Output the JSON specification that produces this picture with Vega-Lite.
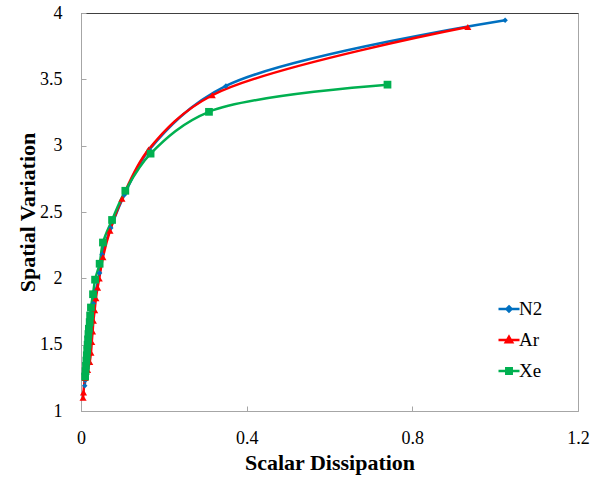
{
  "$schema": "https://vega.github.io/schema/vega-lite/v6.json",
  "width": 497,
  "height": 398,
  "autosize": {"type": "none"},
  "padding": {"left": 81, "top": 13, "right": 15, "bottom": 70},
  "config": {
    "view": {"stroke": "#A6A6A6", "strokeWidth": 1},
    "font": "Liberation Serif",
    "axis": {"labelFont": "Liberation Serif", "titleFont": "Liberation Serif"},
    "legend": {"padding": 0, "labelFont": "Liberation Serif"}
  },
  "data": {
    "values": [
      {"gas": "N2", "x": 0.009, "y": 1.19},
      {"gas": "N2", "x": 0.010, "y": 1.23},
      {"gas": "N2", "x": 0.012, "y": 1.30},
      {"gas": "N2", "x": 0.014, "y": 1.37},
      {"gas": "N2", "x": 0.016, "y": 1.44},
      {"gas": "N2", "x": 0.018, "y": 1.50},
      {"gas": "N2", "x": 0.020, "y": 1.57},
      {"gas": "N2", "x": 0.023, "y": 1.64},
      {"gas": "N2", "x": 0.026, "y": 1.72},
      {"gas": "N2", "x": 0.030, "y": 1.81},
      {"gas": "N2", "x": 0.036, "y": 1.91},
      {"gas": "N2", "x": 0.045, "y": 2.04},
      {"gas": "N2", "x": 0.051, "y": 2.18},
      {"gas": "N2", "x": 0.072, "y": 2.38},
      {"gas": "N2", "x": 0.105, "y": 2.63},
      {"gas": "N2", "x": 0.165, "y": 2.97},
      {"gas": "N2", "x": 0.350, "y": 3.45},
      {"gas": "N2", "x": 1.024, "y": 3.946},
      {"gas": "Ar", "x": 0.005, "y": 1.10},
      {"gas": "Ar", "x": 0.006, "y": 1.14},
      {"gas": "Ar", "x": 0.010, "y": 1.25},
      {"gas": "Ar", "x": 0.016, "y": 1.31},
      {"gas": "Ar", "x": 0.021, "y": 1.37},
      {"gas": "Ar", "x": 0.024, "y": 1.44},
      {"gas": "Ar", "x": 0.026, "y": 1.52},
      {"gas": "Ar", "x": 0.028, "y": 1.60},
      {"gas": "Ar", "x": 0.030, "y": 1.68},
      {"gas": "Ar", "x": 0.033, "y": 1.76},
      {"gas": "Ar", "x": 0.036, "y": 1.85},
      {"gas": "Ar", "x": 0.040, "y": 1.93},
      {"gas": "Ar", "x": 0.044, "y": 2.00},
      {"gas": "Ar", "x": 0.053, "y": 2.16},
      {"gas": "Ar", "x": 0.070, "y": 2.36},
      {"gas": "Ar", "x": 0.099, "y": 2.60},
      {"gas": "Ar", "x": 0.163, "y": 2.97},
      {"gas": "Ar", "x": 0.317, "y": 3.38},
      {"gas": "Ar", "x": 0.934, "y": 3.894},
      {"gas": "Xe", "x": 0.010, "y": 1.26},
      {"gas": "Xe", "x": 0.011, "y": 1.30},
      {"gas": "Xe", "x": 0.012, "y": 1.34},
      {"gas": "Xe", "x": 0.013, "y": 1.38},
      {"gas": "Xe", "x": 0.014, "y": 1.42},
      {"gas": "Xe", "x": 0.015, "y": 1.46},
      {"gas": "Xe", "x": 0.016, "y": 1.50},
      {"gas": "Xe", "x": 0.017, "y": 1.54},
      {"gas": "Xe", "x": 0.018, "y": 1.58},
      {"gas": "Xe", "x": 0.019, "y": 1.62},
      {"gas": "Xe", "x": 0.021, "y": 1.67},
      {"gas": "Xe", "x": 0.022, "y": 1.72},
      {"gas": "Xe", "x": 0.024, "y": 1.78},
      {"gas": "Xe", "x": 0.029, "y": 1.88},
      {"gas": "Xe", "x": 0.034, "y": 1.99},
      {"gas": "Xe", "x": 0.045, "y": 2.11},
      {"gas": "Xe", "x": 0.053, "y": 2.27},
      {"gas": "Xe", "x": 0.075, "y": 2.44},
      {"gas": "Xe", "x": 0.107, "y": 2.66},
      {"gas": "Xe", "x": 0.168, "y": 2.94},
      {"gas": "Xe", "x": 0.309, "y": 3.255},
      {"gas": "Xe", "x": 0.740, "y": 3.46}
    ]
  },
  "layer": [
    {
      "mark": {"type": "line", "interpolate": "catmull-rom", "strokeWidth": 2.5},
      "encoding": {
        "x": {
          "field": "x", "type": "quantitative",
          "scale": {"domain": [0, 1.2], "nice": false, "zero": false},
          "axis": {
            "values": [0, 0.4, 0.8, 1.2], "format": "~g", "grid": false,
            "domainColor": "#A6A6A6", "tickColor": "#A6A6A6", "tickSize": -5,
            "labelFontSize": 18, "labelColor": "#000000", "labelPadding": 23,
            "labelFlush": false,
            "title": "Scalar Dissipation", "titleFontSize": 22, "titleFontWeight": "bold",
            "titleColor": "#000000", "titlePadding": 5
          }
        },
        "y": {
          "field": "y", "type": "quantitative",
          "scale": {"domain": [1, 4], "nice": false, "zero": false},
          "axis": {
            "values": [1, 1.5, 2, 2.5, 3, 3.5, 4], "format": "~g", "grid": false,
            "domainColor": "#A6A6A6", "tickColor": "#A6A6A6", "tickSize": -5,
            "labelFontSize": 18, "labelColor": "#000000", "labelPadding": 24,
            "labelFlush": false,
            "title": "Spatial Variation", "titleFontSize": 22, "titleFontWeight": "bold",
            "titleColor": "#000000", "titlePadding": 0
          }
        },
        "color": {
          "field": "gas", "type": "nominal", "sort": ["N2", "Ar", "Xe"],
          "scale": {"domain": ["N2", "Ar", "Xe"], "range": ["#0070C0", "#FF0000", "#00B050"]},
          "legend": {
            "orient": "none", "legendX": 416, "legendY": 284, "title": null,
            "symbolType": "stroke", "symbolSize": 441, "symbolStrokeWidth": 2.5,
            "labelFontSize": 19, "labelColor": "#000000", "rowPadding": 9, "labelOffset": -2,
            "encode": {
              "symbols": {
                "update": {
                  "shape": {"signal": "datum.value === 'N2' ? 'M-1,0H1M0,-0.24L0.24,0L0,0.24L-0.24,0Z' : datum.value === 'Ar' ? 'M-1,0H1M0,-0.3L0.3,0.22L-0.3,0.22Z' : 'M-1,0H1M-0.26,-0.26H0.26V0.26H-0.26Z'"},
                  "fill": {"signal": "scale('color', datum.value)"},
                  "stroke": {"signal": "scale('color', datum.value)"},
                  "strokeWidth": {"value": 2.5},
                  "opacity": {"value": 1}
                }
              }
            }
          }
        }
      }
    },
    {
      "transform": [{"filter": "datum.gas === 'N2'"}],
      "mark": {"type": "point", "filled": true, "opacity": 1, "shape": "diamond", "size": 30},
      "encoding": {
        "x": {
          "field": "x", "type": "quantitative",
          "axis": {"orient": "top", "labels": false, "ticks": false, "title": null, "grid": false, "domainColor": "#404040"}
        },
        "y": {"field": "y", "type": "quantitative"},
        "color": {"field": "gas", "type": "nominal", "legend": null}
      }
    },
    {
      "transform": [{"filter": "datum.gas === 'Ar'"}],
      "mark": {"type": "point", "filled": true, "opacity": 1, "shape": "triangle-up", "size": 50},
      "encoding": {
        "x": {"field": "x", "type": "quantitative", "axis": null},
        "y": {"field": "y", "type": "quantitative"},
        "color": {"field": "gas", "type": "nominal", "legend": null}
      }
    },
    {
      "transform": [{"filter": "datum.gas === 'Xe'"}],
      "mark": {"type": "point", "filled": true, "opacity": 1, "shape": "square", "size": 60},
      "encoding": {
        "x": {"field": "x", "type": "quantitative", "axis": null},
        "y": {"field": "y", "type": "quantitative"},
        "color": {"field": "gas", "type": "nominal", "legend": null}
      }
    }
  ],
  "resolve": {"axis": {"x": "independent"}}
}
